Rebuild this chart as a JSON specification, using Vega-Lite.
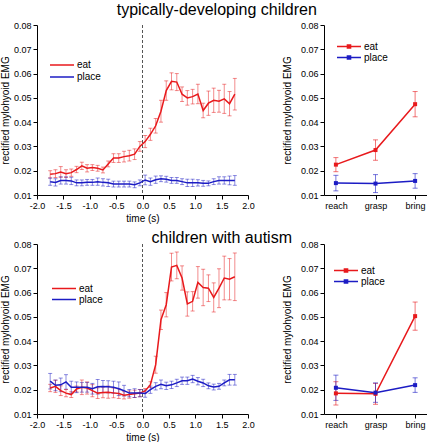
{
  "$schema": "https://vega.github.io/schema/vega-lite/v6.json",
  "padding": {"left": 0, "top": 2, "right": 0, "bottom": 0},
  "background": "white",
  "config": {
    "view": {"stroke": null},
    "font": "Liberation Sans",
    "axis": {"grid": false, "domainColor": "black", "tickColor": "black", "labelColor": "black", "titleColor": "black", "labelFont": "Liberation Sans", "titleFont": "Liberation Sans", "labelFontSize": 9, "titleFontSize": 10, "titleFontWeight": "normal", "tickSize": 4, "labelPadding": 2, "labelOverlap": false, "labelFlush": false},
    "legend": {"labelFont": "Liberation Sans", "labelFontSize": 10, "labelColor": "black", "padding": 0, "labelOffset": 2, "symbolStrokeWidth": 1.5, "symbolSize": 576, "rowPadding": 0, "symbolOpacity": 1},
    "title": {"font": "Liberation Sans", "fontSize": 16, "fontWeight": "normal", "color": "black", "anchor": "middle"}
  },
  "datasets": {
    "tdTime": [
      {"t": -1.75, "cond": "eat", "m": 0.0185, "e": 0.0015}, {"t": -1.65, "cond": "eat", "m": 0.0188, "e": 0.0016}, {"t": -1.55, "cond": "eat", "m": 0.0195, "e": 0.0022}, {"t": -1.45, "cond": "eat", "m": 0.0188, "e": 0.0016}, {"t": -1.35, "cond": "eat", "m": 0.0192, "e": 0.0015}, {"t": -1.25, "cond": "eat", "m": 0.0205, "e": 0.0013}, {"t": -1.15, "cond": "eat", "m": 0.022, "e": 0.0015}, {"t": -1.05, "cond": "eat", "m": 0.021, "e": 0.0015}, {"t": -0.95, "cond": "eat", "m": 0.0213, "e": 0.0012}, {"t": -0.85, "cond": "eat", "m": 0.021, "e": 0.0012}, {"t": -0.75, "cond": "eat", "m": 0.0203, "e": 0.0012}, {"t": -0.65, "cond": "eat", "m": 0.0228, "e": 0.0012}, {"t": -0.55, "cond": "eat", "m": 0.0252, "e": 0.0018}, {"t": -0.45, "cond": "eat", "m": 0.0252, "e": 0.0018}, {"t": -0.35, "cond": "eat", "m": 0.0258, "e": 0.0022}, {"t": -0.25, "cond": "eat", "m": 0.0262, "e": 0.0022}, {"t": -0.15, "cond": "eat", "m": 0.0268, "e": 0.0022}, {"t": -0.05, "cond": "eat", "m": 0.03, "e": 0.002},
      {"t": 0.05, "cond": "eat", "m": 0.032, "e": 0.0025}, {"t": 0.15, "cond": "eat", "m": 0.035, "e": 0.0025}, {"t": 0.25, "cond": "eat", "m": 0.0385, "e": 0.003}, {"t": 0.35, "cond": "eat", "m": 0.0445, "e": 0.0045}, {"t": 0.45, "cond": "eat", "m": 0.053, "e": 0.004}, {"t": 0.55, "cond": "eat", "m": 0.0568, "e": 0.0035}, {"t": 0.65, "cond": "eat", "m": 0.0565, "e": 0.0035}, {"t": 0.75, "cond": "eat", "m": 0.0515, "e": 0.003}, {"t": 0.85, "cond": "eat", "m": 0.05, "e": 0.003}, {"t": 0.95, "cond": "eat", "m": 0.0505, "e": 0.003}, {"t": 1.05, "cond": "eat", "m": 0.0516, "e": 0.004}, {"t": 1.15, "cond": "eat", "m": 0.0448, "e": 0.003}, {"t": 1.25, "cond": "eat", "m": 0.0478, "e": 0.005}, {"t": 1.35, "cond": "eat", "m": 0.049, "e": 0.005}, {"t": 1.45, "cond": "eat", "m": 0.0486, "e": 0.0045}, {"t": 1.55, "cond": "eat", "m": 0.0496, "e": 0.006}, {"t": 1.65, "cond": "eat", "m": 0.0476, "e": 0.005}, {"t": 1.75, "cond": "eat", "m": 0.0515, "e": 0.0065},
      {"t": -1.75, "cond": "place", "m": 0.0155, "e": 0.0015}, {"t": -1.65, "cond": "place", "m": 0.0152, "e": 0.0015}, {"t": -1.55, "cond": "place", "m": 0.016, "e": 0.0015}, {"t": -1.45, "cond": "place", "m": 0.016, "e": 0.0015}, {"t": -1.35, "cond": "place", "m": 0.0158, "e": 0.0015}, {"t": -1.25, "cond": "place", "m": 0.015, "e": 0.0012}, {"t": -1.15, "cond": "place", "m": 0.015, "e": 0.0012}, {"t": -1.05, "cond": "place", "m": 0.0152, "e": 0.0012}, {"t": -0.95, "cond": "place", "m": 0.0152, "e": 0.0012}, {"t": -0.85, "cond": "place", "m": 0.0155, "e": 0.0015}, {"t": -0.75, "cond": "place", "m": 0.0152, "e": 0.0015}, {"t": -0.65, "cond": "place", "m": 0.015, "e": 0.0015}, {"t": -0.55, "cond": "place", "m": 0.0145, "e": 0.0012}, {"t": -0.45, "cond": "place", "m": 0.0145, "e": 0.0012}, {"t": -0.35, "cond": "place", "m": 0.0145, "e": 0.0012}, {"t": -0.25, "cond": "place", "m": 0.0145, "e": 0.0012}, {"t": -0.15, "cond": "place", "m": 0.0142, "e": 0.0012}, {"t": -0.05, "cond": "place", "m": 0.015, "e": 0.0012},
      {"t": 0.05, "cond": "place", "m": 0.0162, "e": 0.002}, {"t": 0.15, "cond": "place", "m": 0.0155, "e": 0.0015}, {"t": 0.25, "cond": "place", "m": 0.0163, "e": 0.0015}, {"t": 0.35, "cond": "place", "m": 0.0167, "e": 0.0012}, {"t": 0.45, "cond": "place", "m": 0.0165, "e": 0.0012}, {"t": 0.55, "cond": "place", "m": 0.016, "e": 0.0012}, {"t": 0.65, "cond": "place", "m": 0.016, "e": 0.0012}, {"t": 0.75, "cond": "place", "m": 0.0155, "e": 0.0012}, {"t": 0.85, "cond": "place", "m": 0.015, "e": 0.0015}, {"t": 0.95, "cond": "place", "m": 0.015, "e": 0.0015}, {"t": 1.05, "cond": "place", "m": 0.015, "e": 0.0013}, {"t": 1.15, "cond": "place", "m": 0.0148, "e": 0.0012}, {"t": 1.25, "cond": "place", "m": 0.0148, "e": 0.001}, {"t": 1.35, "cond": "place", "m": 0.0155, "e": 0.0012}, {"t": 1.45, "cond": "place", "m": 0.016, "e": 0.0015}, {"t": 1.55, "cond": "place", "m": 0.016, "e": 0.0015}, {"t": 1.65, "cond": "place", "m": 0.016, "e": 0.0018}, {"t": 1.75, "cond": "place", "m": 0.016, "e": 0.002}
    ],
    "asdTime": [
      {"t": -1.75, "cond": "eat", "m": 0.0207, "e": 0.0015}, {"t": -1.65, "cond": "eat", "m": 0.0214, "e": 0.0025}, {"t": -1.55, "cond": "eat", "m": 0.0196, "e": 0.002}, {"t": -1.45, "cond": "eat", "m": 0.0186, "e": 0.0015}, {"t": -1.35, "cond": "eat", "m": 0.018, "e": 0.0012}, {"t": -1.25, "cond": "eat", "m": 0.0203, "e": 0.0012}, {"t": -1.15, "cond": "eat", "m": 0.021, "e": 0.003}, {"t": -1.05, "cond": "eat", "m": 0.0207, "e": 0.0025}, {"t": -0.95, "cond": "eat", "m": 0.0196, "e": 0.0025}, {"t": -0.85, "cond": "eat", "m": 0.0186, "e": 0.0022}, {"t": -0.75, "cond": "eat", "m": 0.0189, "e": 0.0022}, {"t": -0.65, "cond": "eat", "m": 0.019, "e": 0.0025}, {"t": -0.55, "cond": "eat", "m": 0.0187, "e": 0.002}, {"t": -0.45, "cond": "eat", "m": 0.0184, "e": 0.002}, {"t": -0.35, "cond": "eat", "m": 0.0177, "e": 0.0015}, {"t": -0.25, "cond": "eat", "m": 0.018, "e": 0.0015}, {"t": -0.15, "cond": "eat", "m": 0.0183, "e": 0.0015}, {"t": -0.05, "cond": "eat", "m": 0.0186, "e": 0.0015},
      {"t": 0.05, "cond": "eat", "m": 0.0195, "e": 0.001}, {"t": 0.15, "cond": "eat", "m": 0.0221, "e": 0.0012}, {"t": 0.25, "cond": "eat", "m": 0.0303, "e": 0.0035}, {"t": 0.35, "cond": "eat", "m": 0.0488, "e": 0.004}, {"t": 0.45, "cond": "eat", "m": 0.055, "e": 0.005}, {"t": 0.55, "cond": "eat", "m": 0.0705, "e": 0.0057}, {"t": 0.65, "cond": "eat", "m": 0.0712, "e": 0.0055}, {"t": 0.75, "cond": "eat", "m": 0.066, "e": 0.005}, {"t": 0.85, "cond": "eat", "m": 0.0553, "e": 0.005}, {"t": 0.95, "cond": "eat", "m": 0.0564, "e": 0.004}, {"t": 1.05, "cond": "eat", "m": 0.0642, "e": 0.0065}, {"t": 1.15, "cond": "eat", "m": 0.0621, "e": 0.0075}, {"t": 1.25, "cond": "eat", "m": 0.0618, "e": 0.0055}, {"t": 1.35, "cond": "eat", "m": 0.058, "e": 0.006}, {"t": 1.45, "cond": "eat", "m": 0.0618, "e": 0.008}, {"t": 1.55, "cond": "eat", "m": 0.066, "e": 0.009}, {"t": 1.65, "cond": "eat", "m": 0.0655, "e": 0.0085}, {"t": 1.75, "cond": "eat", "m": 0.0665, "e": 0.0098},
      {"t": -1.75, "cond": "place", "m": 0.0235, "e": 0.0032}, {"t": -1.65, "cond": "place", "m": 0.0218, "e": 0.0022}, {"t": -1.55, "cond": "place", "m": 0.022, "e": 0.0028}, {"t": -1.45, "cond": "place", "m": 0.0232, "e": 0.003}, {"t": -1.35, "cond": "place", "m": 0.021, "e": 0.0025}, {"t": -1.25, "cond": "place", "m": 0.021, "e": 0.0022}, {"t": -1.15, "cond": "place", "m": 0.021, "e": 0.002}, {"t": -1.05, "cond": "place", "m": 0.021, "e": 0.002}, {"t": -0.95, "cond": "place", "m": 0.0204, "e": 0.0022}, {"t": -0.85, "cond": "place", "m": 0.0212, "e": 0.003}, {"t": -0.75, "cond": "place", "m": 0.0213, "e": 0.0025}, {"t": -0.65, "cond": "place", "m": 0.0212, "e": 0.0025}, {"t": -0.55, "cond": "place", "m": 0.021, "e": 0.0025}, {"t": -0.45, "cond": "place", "m": 0.0204, "e": 0.0028}, {"t": -0.35, "cond": "place", "m": 0.0196, "e": 0.0022}, {"t": -0.25, "cond": "place", "m": 0.0186, "e": 0.0015}, {"t": -0.15, "cond": "place", "m": 0.0186, "e": 0.0018}, {"t": -0.05, "cond": "place", "m": 0.0186, "e": 0.0015},
      {"t": 0.05, "cond": "place", "m": 0.0184, "e": 0.0015}, {"t": 0.15, "cond": "place", "m": 0.02, "e": 0.0015}, {"t": 0.25, "cond": "place", "m": 0.0214, "e": 0.0015}, {"t": 0.35, "cond": "place", "m": 0.0222, "e": 0.0018}, {"t": 0.45, "cond": "place", "m": 0.0216, "e": 0.0015}, {"t": 0.55, "cond": "place", "m": 0.022, "e": 0.0015}, {"t": 0.65, "cond": "place", "m": 0.0228, "e": 0.0015}, {"t": 0.75, "cond": "place", "m": 0.0237, "e": 0.0015}, {"t": 0.85, "cond": "place", "m": 0.0237, "e": 0.0015}, {"t": 0.95, "cond": "place", "m": 0.0244, "e": 0.0015}, {"t": 1.05, "cond": "place", "m": 0.0235, "e": 0.0015}, {"t": 1.15, "cond": "place", "m": 0.0228, "e": 0.0015}, {"t": 1.25, "cond": "place", "m": 0.0216, "e": 0.0012}, {"t": 1.35, "cond": "place", "m": 0.0211, "e": 0.0012}, {"t": 1.45, "cond": "place", "m": 0.0214, "e": 0.0012}, {"t": 1.55, "cond": "place", "m": 0.0228, "e": 0.0012}, {"t": 1.65, "cond": "place", "m": 0.0241, "e": 0.0022}, {"t": 1.75, "cond": "place", "m": 0.0241, "e": 0.0022}
    ],
    "tdPhase": [
      {"phase": "reach", "cond": "eat", "m": 0.0225, "e": 0.0029}, {"phase": "grasp", "cond": "eat", "m": 0.0285, "e": 0.0042}, {"phase": "bring", "cond": "eat", "m": 0.0474, "e": 0.0052},
      {"phase": "reach", "cond": "place", "m": 0.0149, "e": 0.0032}, {"phase": "grasp", "cond": "place", "m": 0.0147, "e": 0.0037}, {"phase": "bring", "cond": "place", "m": 0.0158, "e": 0.003}
    ],
    "asdPhase": [
      {"phase": "reach", "cond": "eat", "m": 0.0185, "e": 0.0048}, {"phase": "grasp", "cond": "eat", "m": 0.0183, "e": 0.0043}, {"phase": "bring", "cond": "eat", "m": 0.0503, "e": 0.0058},
      {"phase": "reach", "cond": "place", "m": 0.0208, "e": 0.0052}, {"phase": "grasp", "cond": "place", "m": 0.0188, "e": 0.004}, {"phase": "bring", "cond": "place", "m": 0.0219, "e": 0.003}
    ],
    "zero": [{"t": 0}]
  },
  "resolve": {"scale": {"color": "independent"}, "legend": {"color": "independent"}},
  "spacing": 7,
  "vconcat": [
    {
      "title": {"text": "typically-developing children", "dx": 3, "offset": 3},
      "spacing": 27,
      "resolve": {"scale": {"color": "independent"}, "legend": {"color": "independent"}},
      "hconcat": [
        {
          "width": 211, "height": 170,
          "layer": [
            {"data": {"name": "zero"}, "mark": {"type": "rule", "color": "#555555", "strokeDash": [3, 2], "strokeWidth": 1},
             "encoding": {"x": {"field": "t", "type": "quantitative", "scale": {"domain": [-2, 2], "nice": false}, "axis": {"title": "time (s)", "values": [-2, -1.5, -1, -0.5, 0, 0.5, 1, 1.5, 2], "labelExpr": "replace(format(datum.value, '.1f'), '\u2212', '-')", "titlePadding": 3}}}},
            {"data": {"name": "tdTime"}, "mark": {"type": "errorbar", "ticks": {"size": 4}, "opacity": 0.5, "thickness": 1},
             "encoding": {
               "x": {"field": "t", "type": "quantitative", "scale": {"domain": [-2, 2], "nice": false}, "axis": {"title": "time (s)", "values": [-2, -1.5, -1, -0.5, 0, 0.5, 1, 1.5, 2], "labelExpr": "replace(format(datum.value, '.1f'), '\u2212', '-')", "titlePadding": 3}},
               "y": {"field": "m", "type": "quantitative", "scale": {"domain": [0.01, 0.08], "nice": false, "zero": false}, "axis": {"title": "rectified mylohyoid EMG", "values": [0.01, 0.02, 0.03, 0.04, 0.05, 0.06, 0.07, 0.08], "format": ".2f", "titlePadding": 3}},
               "yError": {"field": "e"},
               "color": {"field": "cond", "type": "nominal", "scale": {"domain": ["eat", "place"], "range": ["#e8191c", "#1c1cc4"]}, "legend": {"title": null, "orient": "none", "legendX": 12, "legendY": 34, "symbolType": "stroke", "clipHeight": 12, "symbolOpacity": 1}}}},
            {"data": {"name": "tdTime"}, "mark": {"type": "line", "strokeWidth": 1.5},
             "encoding": {
               "x": {"field": "t", "type": "quantitative", "scale": {"domain": [-2, 2], "nice": false}, "axis": {"title": "time (s)", "values": [-2, -1.5, -1, -0.5, 0, 0.5, 1, 1.5, 2], "labelExpr": "replace(format(datum.value, '.1f'), '\u2212', '-')", "titlePadding": 3}},
               "y": {"field": "m", "type": "quantitative", "scale": {"domain": [0.01, 0.08], "nice": false, "zero": false}, "axis": {"title": "rectified mylohyoid EMG", "values": [0.01, 0.02, 0.03, 0.04, 0.05, 0.06, 0.07, 0.08], "format": ".2f", "titlePadding": 3}},
               "color": {"field": "cond", "type": "nominal", "scale": {"domain": ["eat", "place"], "range": ["#e8191c", "#1c1cc4"]}, "legend": {"title": null, "orient": "none", "legendX": 12, "legendY": 34, "symbolType": "stroke", "clipHeight": 12, "symbolOpacity": 1}}
             }}
          ]
        },
        {
          "width": 103, "height": 170,
          "data": {"name": "tdPhase"},
          "encoding": {
            "x": {"field": "phase", "type": "ordinal", "sort": ["reach", "grasp", "bring"], "scale": {"type": "point", "padding": 0.3, "domain": ["reach", "grasp", "bring"]}, "axis": {"title": null, "labelAngle": 0, "labelFontSize": 9}},
            "y": {"field": "m", "type": "quantitative", "scale": {"domain": [0.01, 0.08], "nice": false, "zero": false}, "axis": {"title": "rectified mylohyoid EMG", "values": [0.01, 0.02, 0.03, 0.04, 0.05, 0.06, 0.07, 0.08], "format": ".2f", "titlePadding": 8}},
            "color": {"field": "cond", "type": "nominal", "scale": {"domain": ["eat", "place"], "range": ["#e8191c", "#1c1cc4"]}, "legend": {"title": null, "orient": "none", "legendX": 12, "legendY": 16, "symbolType": "M-1,0L1,0M-0.13,-0.13L0.13,-0.13L0.13,0.13L-0.13,0.13Z", "clipHeight": 11, "symbolOpacity": 1, "encode": {"symbols": {"update": {"fill": {"signal": "datum.value === 'eat' ? '#e8191c' : '#1c1cc4'"}}}}}}
          },
          "layer": [
            {"mark": {"type": "errorbar", "ticks": {"size": 5}, "opacity": 0.6, "thickness": 1}, "encoding": {"yError": {"field": "e"}}},
            {"mark": {"type": "line", "strokeWidth": 1.5}},
            {"mark": {"type": "point", "shape": "square", "filled": true, "size": 16, "opacity": 1}}
          ]
        }
      ]
    },
    {
      "title": {"text": "children with autism", "dx": 8, "offset": -6},
      "spacing": 27,
      "resolve": {"scale": {"color": "independent"}, "legend": {"color": "independent"}},
      "hconcat": [
        {
          "width": 211, "height": 170,
          "layer": [
            {"data": {"name": "zero"}, "mark": {"type": "rule", "color": "#555555", "strokeDash": [3, 2], "strokeWidth": 1},
             "encoding": {"x": {"field": "t", "type": "quantitative", "scale": {"domain": [-2, 2], "nice": false}, "axis": {"title": "time (s)", "values": [-2, -1.5, -1, -0.5, 0, 0.5, 1, 1.5, 2], "labelExpr": "replace(format(datum.value, '.1f'), '\u2212', '-')", "titlePadding": 3}}}},
            {"data": {"name": "asdTime"}, "mark": {"type": "errorbar", "ticks": {"size": 4}, "opacity": 0.5, "thickness": 1},
             "encoding": {
               "x": {"field": "t", "type": "quantitative", "scale": {"domain": [-2, 2], "nice": false}, "axis": {"title": "time (s)", "values": [-2, -1.5, -1, -0.5, 0, 0.5, 1, 1.5, 2], "labelExpr": "replace(format(datum.value, '.1f'), '\u2212', '-')", "titlePadding": 3}},
               "y": {"field": "m", "type": "quantitative", "scale": {"domain": [0.01, 0.08], "nice": false, "zero": false}, "axis": {"title": "rectified mylohyoid EMG", "values": [0.01, 0.02, 0.03, 0.04, 0.05, 0.06, 0.07, 0.08], "format": ".2f", "titlePadding": 3}},
               "yError": {"field": "e"},
               "color": {"field": "cond", "type": "nominal", "scale": {"domain": ["eat", "place"], "range": ["#e8191c", "#1c1cc4"]}, "legend": {"title": null, "orient": "none", "legendX": 14, "legendY": 39, "symbolType": "stroke", "clipHeight": 11, "symbolOpacity": 1}}}},
            {"data": {"name": "asdTime"}, "mark": {"type": "line", "strokeWidth": 1.5},
             "encoding": {
               "x": {"field": "t", "type": "quantitative", "scale": {"domain": [-2, 2], "nice": false}, "axis": {"title": "time (s)", "values": [-2, -1.5, -1, -0.5, 0, 0.5, 1, 1.5, 2], "labelExpr": "replace(format(datum.value, '.1f'), '\u2212', '-')", "titlePadding": 3}},
               "y": {"field": "m", "type": "quantitative", "scale": {"domain": [0.01, 0.08], "nice": false, "zero": false}, "axis": {"title": "rectified mylohyoid EMG", "values": [0.01, 0.02, 0.03, 0.04, 0.05, 0.06, 0.07, 0.08], "format": ".2f", "titlePadding": 3}},
               "color": {"field": "cond", "type": "nominal", "scale": {"domain": ["eat", "place"], "range": ["#e8191c", "#1c1cc4"]}, "legend": {"title": null, "orient": "none", "legendX": 14, "legendY": 39, "symbolType": "stroke", "clipHeight": 11, "symbolOpacity": 1}}
             }}
          ]
        },
        {
          "width": 103, "height": 170,
          "data": {"name": "asdPhase"},
          "encoding": {
            "x": {"field": "phase", "type": "ordinal", "sort": ["reach", "grasp", "bring"], "scale": {"type": "point", "padding": 0.3, "domain": ["reach", "grasp", "bring"]}, "axis": {"title": null, "labelAngle": 0, "labelFontSize": 9}},
            "y": {"field": "m", "type": "quantitative", "scale": {"domain": [0.01, 0.08], "nice": false, "zero": false}, "axis": {"title": "rectified mylohyoid EMG", "values": [0.01, 0.02, 0.03, 0.04, 0.05, 0.06, 0.07, 0.08], "format": ".2f", "titlePadding": 8}},
            "color": {"field": "cond", "type": "nominal", "scale": {"domain": ["eat", "place"], "range": ["#e8191c", "#1c1cc4"]}, "legend": {"title": null, "orient": "none", "legendX": 9, "legendY": 21, "symbolType": "M-1,0L1,0M-0.13,-0.13L0.13,-0.13L0.13,0.13L-0.13,0.13Z", "clipHeight": 11, "symbolOpacity": 1, "encode": {"symbols": {"update": {"fill": {"signal": "datum.value === 'eat' ? '#e8191c' : '#1c1cc4'"}}}}}}
          },
          "layer": [
            {"mark": {"type": "errorbar", "ticks": {"size": 5}, "opacity": 0.6, "thickness": 1}, "encoding": {"yError": {"field": "e"}}},
            {"mark": {"type": "line", "strokeWidth": 1.5}},
            {"mark": {"type": "point", "shape": "square", "filled": true, "size": 16, "opacity": 1}}
          ]
        }
      ]
    }
  ]
}
